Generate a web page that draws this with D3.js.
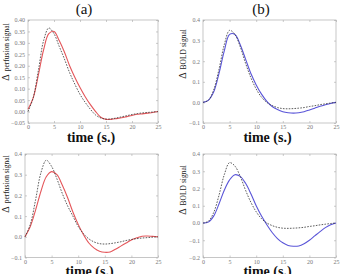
<!DOCTYPE html>
<html>
<head>
<meta charset="utf-8">
<script src="https://cdn.jsdelivr.net/npm/d3@7"></script>
<style>
    body { margin: 0; background: #fff; }
    svg { display: block; }
</style>
</head>
<body>
<svg id="chart" width="341" height="274"></svg>
<script>
// time axis, seconds
const times = d3.range(0, 26);

// (a) top: perfusion fit
const perfDashTop = [0.0, 0.06, 0.18, 0.31, 0.365, 0.34, 0.285, 0.23, 0.17, 0.12, 0.075, 0.04, 0.01,
    -0.015, -0.028, -0.033, -0.032, -0.028, -0.023, -0.018, -0.013, -0.009, -0.006, -0.004, -0.002, 0.0];
const perfRedTop = [0.01, 0.06, 0.16, 0.27, 0.34, 0.35, 0.31, 0.26, 0.20, 0.15, 0.105, 0.065, 0.03,
    0.0, -0.025, -0.034, -0.034, -0.031, -0.027, -0.022, -0.017, -0.012, -0.01, -0.007, -0.004, 0.0];

// (b) top: BOLD fit
const boldDashTop = [0.0, 0.01, 0.06, 0.16, 0.28, 0.35, 0.33, 0.27, 0.19, 0.12, 0.065, 0.025, 0.0,
    -0.015, -0.025, -0.03, -0.031, -0.03, -0.028, -0.025, -0.02, -0.016, -0.011, -0.007, -0.003, 0.0];
const boldBlueTop = [0.0, 0.01, 0.05, 0.14, 0.25, 0.33, 0.33, 0.28, 0.21, 0.14, 0.085, 0.04, 0.005,
    -0.02, -0.035, -0.045, -0.05, -0.052, -0.05, -0.045, -0.037, -0.028, -0.019, -0.011, -0.005, 0.0];

// (a) bottom
const perfDashBot = [0.0, 0.06, 0.18, 0.31, 0.37, 0.34, 0.28, 0.21, 0.15, 0.10, 0.05, 0.015, -0.01,
    -0.025, -0.033, -0.035, -0.033, -0.029, -0.024, -0.018, -0.013, -0.009, -0.006, -0.004, -0.002, 0.0];
const perfRedBot = [0.0, 0.05, 0.13, 0.22, 0.29, 0.315, 0.30, 0.25, 0.19, 0.12, 0.06, 0.01, -0.03,
    -0.055, -0.07, -0.075, -0.073, -0.06, -0.045, -0.03, -0.015, -0.005, 0.003, 0.004, 0.002, 0.0];

// (b) bottom
const boldDashBot = [0.0, 0.01, 0.06, 0.16, 0.28, 0.35, 0.33, 0.27, 0.19, 0.12, 0.065, 0.025, 0.0,
    -0.015, -0.025, -0.03, -0.031, -0.03, -0.028, -0.025, -0.02, -0.016, -0.011, -0.007, -0.003, 0.0];
const boldBlueBot = [0.0, 0.005, 0.04, 0.11, 0.19, 0.25, 0.28, 0.27, 0.23, 0.17, 0.10, 0.04, -0.01,
    -0.055, -0.09, -0.115, -0.13, -0.135, -0.133, -0.12, -0.10, -0.075, -0.05, -0.027, -0.01, 0.0];

const xTicks = [0, 5, 10, 15, 20, 25];
const yTicksFine = [-0.05, 0, 0.05, 0.10, 0.15, 0.20, 0.25, 0.30, 0.35, 0.40];
const yTicksTen = [-0.1, 0, 0.1, 0.2, 0.3, 0.4];
const yTicksWide = [-0.2, -0.1, 0, 0.1, 0.2, 0.3, 0.4];

const RED = '#e4565a';
const BLUE = '#5a55d8';
const SERIF = '"Liberation Serif", "DejaVu Serif", serif';

const svg = d3.select('#chart');

const minus = s => s.replace('-', '\u2212');

function drawPanel(p) {
    const x = d3.scaleLinear().domain([0, 25]).range([p.left, p.right]);
    const y = d3.scaleLinear().domain(p.yDomain).range([p.bottom, p.top]);
    const g = svg.append('g');

    // frame
    g.append('rect')
        .attr('x', p.left).attr('y', p.top)
        .attr('width', p.right - p.left).attr('height', p.bottom - p.top)
        .attr('fill', 'none').attr('stroke', '#b8b8b8').attr('stroke-width', 0.8);

    // inward ticks on four sides
    const tickCol = '#aaa';
    const axB = d3.axisBottom(x).tickValues(xTicks).tickSize(-2).tickPadding(2).tickFormat(d3.format('d'));
    const axT = d3.axisTop(x).tickValues(xTicks).tickSize(-2).tickFormat('');
    const axL = d3.axisLeft(y).tickValues(p.yTicks).tickSize(-2).tickPadding(3)
        .tickFormat(d => minus(d3.format(p.fmt)(d)));
    const axR = d3.axisRight(y).tickValues(p.yTicks).tickSize(-2).tickFormat('');

    [[axB, `translate(0,${p.bottom})`], [axT, `translate(0,${p.top})`],
     [axL, `translate(${p.left},0)`], [axR, `translate(${p.right},0)`]].forEach(([ax, tr]) => {
        const a = g.append('g').attr('transform', tr).call(ax);
        a.select('.domain').remove();
        a.selectAll('.tick line').attr('stroke', tickCol).attr('stroke-width', 0.6);
        a.selectAll('.tick text')
            .attr('fill', '#777')
            .style('font-family', SERIF)
            .style('font-size', '6px');
    });

    const line = d3.line()
        .x((d, i) => x(times[i]))
        .y(d => y(d))
        .curve(d3.curveCatmullRom.alpha(0.5));

    g.append('path')
        .attr('d', line(p.fit))
        .attr('fill', 'none')
        .attr('stroke', p.color)
        .attr('stroke-width', 1.1);

    g.append('path')
        .attr('d', line(p.dash))
        .attr('fill', 'none')
        .attr('stroke', '#333')
        .attr('stroke-width', 0.8)
        .attr('stroke-dasharray', '1.6,1.3');

    // y label
    const lab = g.append('text')
        .attr('transform', `translate(${p.labX},${p.labY}) rotate(-90)`)
        .attr('text-anchor', 'middle')
        .attr('fill', '#222')
        .style('font-family', SERIF);
    lab.append('tspan').style('font-size', '10px').text('\u0394');
    lab.append('tspan').style('font-size', '7.5px').attr('dx', 3).text(p.label);

    // x label (the lower row runs off the bottom edge, as in the original)
    g.append('text')
        .attr('x', (p.left + p.right) / 2 - 2)
        .attr('y', p.bottom + 18.5)
        .attr('text-anchor', 'middle')
        .attr('fill', '#111')
        .style('font-family', SERIF)
        .style('font-size', '14px')
        .style('font-weight', 'bold')
        .text('time (s.)');
}

drawPanel({left: 28, right: 158, top: 20, bottom: 123, yDomain: [-0.05, 0.40], yTicks: yTicksFine, fmt: '.2f',
    fit: perfRedTop, dash: perfDashTop, color: RED, label: 'perfusion signal', labX: 9, labY: 52});
drawPanel({left: 203, right: 336, top: 20, bottom: 123, yDomain: [-0.1, 0.4], yTicks: yTicksTen, fmt: '.1f',
    fit: boldBlueTop, dash: boldDashTop, color: BLUE, label: 'BOLD signal', labX: 186, labY: 54});
drawPanel({left: 25, right: 158, top: 154, bottom: 257.5, yDomain: [-0.1, 0.4], yTicks: yTicksTen, fmt: '.1f',
    fit: perfRedBot, dash: perfDashBot, color: RED, label: 'perfusion signal', labX: 9, labY: 184});
drawPanel({left: 203, right: 336, top: 154, bottom: 257.5, yDomain: [-0.2, 0.4], yTicks: yTicksWide, fmt: '.1f',
    fit: boldBlueBot, dash: boldDashBot, color: BLUE, label: 'BOLD signal', labX: 186, labY: 190});

// panel titles
svg.selectAll('text.title')
    .data([{t: '(a)', x: 84}, {t: '(b)', x: 261}])
    .join('text')
    .attr('class', 'title')
    .attr('x', d => d.x)
    .attr('y', 14)
    .attr('text-anchor', 'middle')
    .attr('fill', '#111')
    .style('font-family', SERIF)
    .style('font-size', '15px')
    .text(d => d.t);
</script>
</body>
</html>
